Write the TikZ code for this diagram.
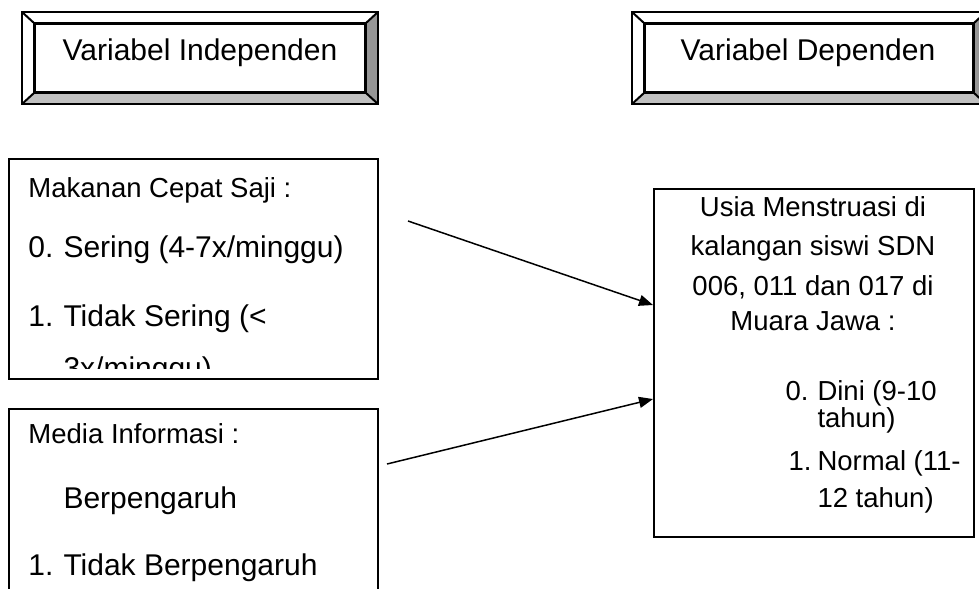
\documentclass[tikz,border=0pt]{standalone}
\usepackage{fontspec}
\setmainfont{Liberation Sans}
\usetikzlibrary{arrows.meta}

\definecolor{bevelbot}{RGB}{192,192,192}
\definecolor{bevelside}{RGB}{150,150,150}

\tikzset{
  frame/.style={draw, line width=0.8pt},
  hdrbox/.style={frame, minimum height=27.2pt, inner sep=0pt},
  big/.style={font=\fontsize{12}{14}\selectfont, inner sep=0pt},
  small/.style={font=\fontsize{11}{13}\selectfont, inner sep=0pt},
  arr/.style={-{Triangle[length=5.6pt,width=4.4pt]}, line width=0.6pt},
}

\begin{document}
\begin{tikzpicture}[x=0.4pt,y=-0.4pt]
        \clip (0,0) rectangle (979,588);
        \fill[white] (0,0) rectangle (979,588);

        % header boxes
        \node[hdrbox, minimum width=132pt] (indep) at (200,58) {};
        \node[hdrbox, minimum width=131.2pt] (dep) at (809,58) {};
        \foreach \n in {indep,dep} {
          \fill[bevelbot] ([shift={(-12,11)}]\n.south west) -- (\n.south west) -- (\n.south east) -- ([shift={(12,11)}]\n.south east) -- cycle;
          \fill[bevelside] ([shift={(12,-11)}]\n.north east) -- (\n.north east) -- (\n.south east) -- ([shift={(12,11)}]\n.south east) -- cycle;
          \draw[frame] ([shift={(-12,-11)}]\n.north west) rectangle ([shift={(12,11)}]\n.south east);
          \draw[frame] (\n.north west) rectangle (\n.south east);
          \draw[frame] ([shift={(-12,-11)}]\n.north west) -- (\n.north west);
          \draw[frame] ([shift={(12,-11)}]\n.north east) -- (\n.north east);
          \draw[frame] ([shift={(-12,11)}]\n.south west) -- (\n.south west);
          \draw[frame] ([shift={(12,11)}]\n.south east) -- (\n.south east);
        }
        \node[big, anchor=base] (indepT) at (200,60) {Variabel Independen};
        \node[big, anchor=base] (depT) at (808,60) {Variabel Dependen};

        % left boxes
        \node[frame, minimum width=147.6pt, minimum height=88pt, anchor=north west] (food) at (8,158) {};
        \node[frame, minimum width=147.6pt, minimum height=80pt, anchor=north west] (media) at (8,408) {};

        \begin{scope}
        \clip (8,158) rectangle (377,368);
        \node[small, anchor=base west] (foodT) at (28,197) {Makanan Cepat Saji :};
        \node[big, anchor=base west] (f0) at (28,257) {0.};
        \node[big, anchor=base west] (f0T) at (63,257) {Sering (4-7x/minggu)};
        \node[big, anchor=base west] (f1) at (28,326) {1.};
        \node[big, anchor=base west] (f1T) at (63,326) {Tidak Sering (<};
        \node[big, anchor=base west] (f1U) at (63,378) {3x/minggu)};
        \end{scope}

        \node[small, anchor=base west] (mediaT) at (28,443) {Media Informasi :};
        \node[big, anchor=base west] (m0T) at (63,508) {Berpengaruh};
        \node[big, anchor=base west] (m1) at (28,575) {1.};
        \node[big, anchor=base west] (m1T) at (63,575) {Tidak Berpengaruh};

        % right box
        \node[frame, minimum width=128pt, minimum height=139.2pt, anchor=north west] (age) at (653,188) {};
        \node[small, anchor=base] (a1) at (813,216) {Usia Menstruasi di};
        \node[small, anchor=base] (a2) at (813,255) {kalangan siswi SDN};
        \node[small, anchor=base] (a3) at (813,295) {006, 011 dan 017 di};
        \node[small, anchor=base] (a4) at (813,330) {Muara Jawa :};
        \node[small, anchor=base west] (d0) at (785,400) {0.};
        \node[small, anchor=base west] (d0T) at (817,400) {Dini (9-10};
        \node[small, anchor=base west] (d0U) at (817,427) {tahun)};
        \node[small, anchor=base west] (d1) at (788,470) {1.};
        \node[small, anchor=base west] (d1T) at (817,470) {Normal (11-};
        \node[small, anchor=base west] (d1U) at (817,507) {12 tahun)};

        \coordinate (s1) at (408,221);
        \coordinate (s2) at (387,464);
        \draw[arr] (s1) -- ([shift={(0,-58)}]age.west);
        \draw[arr] (s2) -- ([shift={(0,36)}]age.west);
\end{tikzpicture}
\end{document}
